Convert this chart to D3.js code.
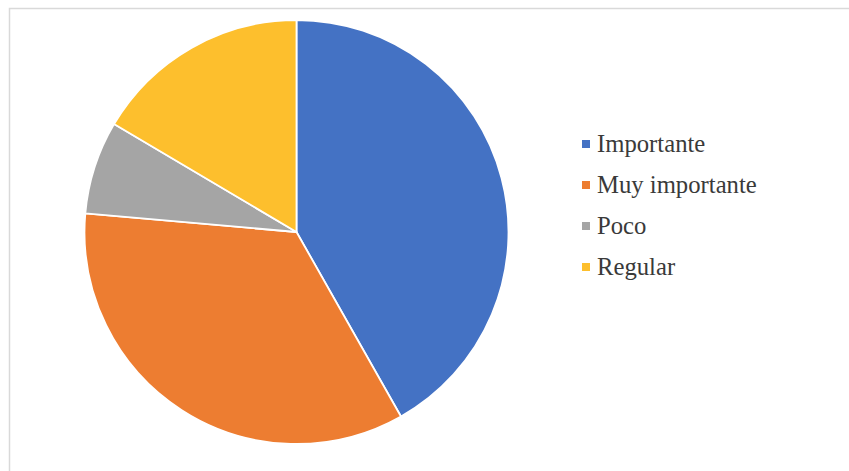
<!DOCTYPE html>
<html>
<head>
<meta charset="utf-8">
<script src="https://cdn.jsdelivr.net/npm/d3@7"></script>
<style>
  html, body { margin: 0; padding: 0; background: #fff; }
  svg { display: block; }
</style>
</head>
<body>
<svg id="chart" width="849" height="471"></svg>
<script>
// Respuestas por categoría (porcentaje)
const categories = ["Importante", "Muy importante", "Poco", "Regular"];
const values = [41.8, 34.6, 7.1, 16.5];
const colors = ["#4472C4", "#ED7D31", "#A5A5A5", "#FDBF2D"];

const svg = d3.select("#chart");
const W = 849, H = 471;

// Chart frame
svg.append("rect")
  .attr("x", 9.5).attr("y", 8.5)
  .attr("width", W + 20).attr("height", H + 20)
  .attr("fill", "#fff")
  .attr("stroke", "#d9d9d9")
  .attr("stroke-width", 1.5);

const cx = 296.5, cy = 232, r = 212;

const pie = d3.pie().sort(null).value(d => d.value);
const arc = d3.arc().innerRadius(0).outerRadius(r);
const color = d3.scaleOrdinal().domain(categories).range(colors);

const data = categories.map((c, i) => ({ name: c, value: values[i] }));

svg.append("g")
  .attr("transform", `translate(${cx},${cy})`)
  .selectAll("path")
  .data(pie(data))
  .join("path")
  .attr("d", arc)
  .attr("fill", d => color(d.data.name))
  .attr("stroke", "#fff")
  .attr("stroke-width", 1.8)
  .attr("stroke-linejoin", "round");

// Legend
const legend = svg.append("g").attr("transform", "translate(582,152)");
const item = legend.selectAll("g")
  .data(categories)
  .join("g")
  .attr("transform", (d, i) => `translate(0,${i * 41})`);

item.append("rect")
  .attr("x", 0).attr("y", -12)
  .attr("width", 8).attr("height", 8)
  .attr("fill", d => color(d));

item.append("text")
  .attr("x", 15).attr("y", 0)
  .attr("font-family", "'Liberation Serif', 'Times New Roman', serif")
  .attr("font-size", 24.7)
  .attr("fill", "#3a3a3a")
  .text(d => d);
</script>
</body>
</html>
